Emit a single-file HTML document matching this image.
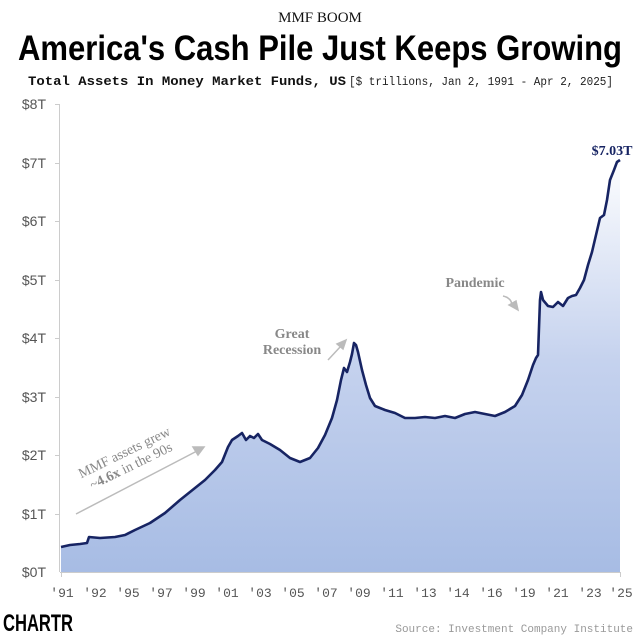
<!DOCTYPE html>
<html><head><style>
body{margin:0;background:#fff;width:640px;height:639px;overflow:hidden}
</style></head><body>
<svg width="640" height="639" viewBox="0 0 640 639" xmlns="http://www.w3.org/2000/svg">
<defs>
<linearGradient id="g" gradientUnits="userSpaceOnUse" x1="0" y1="150" x2="0" y2="572">
<stop offset="0" stop-color="#ffffff"/>
<stop offset="0.5" stop-color="#c5d2ee"/>
<stop offset="1" stop-color="#a7bce4"/>
</linearGradient>
</defs>
<text x="320" y="22" text-anchor="middle" font-family="Liberation Serif,serif" font-size="15" fill="#111">MMF BOOM</text>
<text x="320" y="60" text-anchor="middle" font-family="Liberation Sans,sans-serif" font-size="35" font-weight="bold" fill="#000" textLength="604" lengthAdjust="spacingAndGlyphs">America's Cash Pile Just Keeps Growing</text>
<text x="28" y="85" font-family="Liberation Mono,monospace" font-size="13" font-weight="bold" fill="#111" textLength="318" lengthAdjust="spacingAndGlyphs">Total Assets In Money Market Funds, US</text>
<text x="349" y="85" font-family="Liberation Mono,monospace" font-size="11.5" fill="#222" textLength="264" lengthAdjust="spacingAndGlyphs">[$ trillions, Jan 2, 1991 - Apr 2, 2025]</text>
<g font-family="Liberation Sans,sans-serif" font-size="14" fill="#555" text-anchor="end">
<text x="46" y="109">$8T</text><text x="46" y="168">$7T</text><text x="46" y="226">$6T</text><text x="46" y="285">$5T</text><text x="46" y="343">$4T</text><text x="46" y="402">$3T</text><text x="46" y="460">$2T</text><text x="46" y="519">$1T</text><text x="46" y="577">$0T</text>
</g>
<g stroke="#ccc" stroke-width="1">
<line x1="59.5" y1="104" x2="59.5" y2="572"/>
<line x1="55" y1="104.5" x2="59" y2="104.5"/><line x1="55" y1="163.5" x2="59" y2="163.5"/><line x1="55" y1="221.5" x2="59" y2="221.5"/><line x1="55" y1="280.5" x2="59" y2="280.5"/><line x1="55" y1="338.5" x2="59" y2="338.5"/><line x1="55" y1="397.5" x2="59" y2="397.5"/><line x1="55" y1="455.5" x2="59" y2="455.5"/><line x1="55" y1="514.5" x2="59" y2="514.5"/>
<line x1="60" y1="572.5" x2="621" y2="572.5"/>
</g>
<path d="M61,572 L61,547 L70,545 L80,544 L87,543 L89,537 L100,538 L115,537 L125,535 L135,530 L150,523 L165,513 L180,500 L195,488 L205,480 L215,470 L222,462 L228,447 L232,440 L238,436 L242,433 L246,440 L250,436 L254,438 L258,434 L262,440 L270,444 L280,450 L290,458 L300,462 L310,458 L318,448 L325,435 L332,418 L337,400 L341,380 L344,368 L347,372 L350,362 L352,354 L354,343 L356,345 L358,352 L362,370 L366,385 L370,398 L375,406 L385,410 L395,413 L405,418 L415,418 L425,417 L435,418 L445,416 L455,418 L465,414 L475,412 L485,414 L495,416 L505,412 L515,406 L522,395 L528,380 L533,365 L536,358 L538,355 L540,300 L541,292 L543,300 L548,306 L553,307 L558,302 L563,306 L568,298 L572,296 L576,295 L580,288 L584,280 L588,265 L592,252 L596,235 L600,218 L604,215 L607,200 L610,180 L614,170 L617,162 L620,160 L620,572 Z" fill="url(#g)"/>
<polyline fill="none" stroke="#172463" stroke-width="2.6" stroke-linejoin="round" points="61,547 70,545 80,544 87,543 89,537 100,538 115,537 125,535 135,530 150,523 165,513 180,500 195,488 205,480 215,470 222,462 228,447 232,440 238,436 242,433 246,440 250,436 254,438 258,434 262,440 270,444 280,450 290,458 300,462 310,458 318,448 325,435 332,418 337,400 341,380 344,368 347,372 350,362 352,354 354,343 356,345 358,352 362,370 366,385 370,398 375,406 385,410 395,413 405,418 415,418 425,417 435,418 445,416 455,418 465,414 475,412 485,414 495,416 505,412 515,406 522,395 528,380 533,365 536,358 538,355 540,300 541,292 543,300 548,306 553,307 558,302 563,306 568,298 572,296 576,295 580,288 584,280 588,265 592,252 596,235 600,218 604,215 607,200 610,180 614,170 617,162 620,160"/>
<g stroke="#ccc"><line x1="61.5" y1="572" x2="61.5" y2="577"/><line x1="620.5" y1="572" x2="620.5" y2="577"/></g>
<g font-family="Liberation Mono,monospace" font-size="13" fill="#555" text-anchor="middle">
<text x="62" y="597">'91</text><text x="95" y="597">'92</text><text x="128" y="597">'95</text><text x="161" y="597">'97</text><text x="194" y="597">'99</text><text x="227" y="597">'01</text><text x="260" y="597">'03</text><text x="293" y="597">'05</text><text x="326" y="597">'07</text><text x="359" y="597">'09</text><text x="392" y="597">'11</text><text x="425" y="597">'13</text><text x="458" y="597">'14</text><text x="491" y="597">'16</text><text x="524" y="597">'19</text><text x="557" y="597">'21</text><text x="590" y="597">'23</text><text x="621" y="597">'25</text>
</g>
<text x="612" y="155" text-anchor="middle" font-family="Liberation Serif,serif" font-size="14" font-weight="bold" fill="#172463">$7.03T</text>
<g font-family="Liberation Serif,serif" font-size="14" font-weight="bold" fill="#888" text-anchor="middle">
<text x="292" y="338">Great</text><text x="292" y="354">Recession</text>
<text x="475" y="287">Pandemic</text>
</g>
<g transform="rotate(-26 128 460)" font-family="Liberation Serif,serif" font-size="14" fill="#888" text-anchor="middle">
<text x="128" y="456">MMF assets grew</text>
<text x="128" y="471">~<tspan font-weight="bold">4.6x</tspan> in the 90s</text>
</g>
<g stroke="#bbb" stroke-width="1.5" fill="#bbb">
<line x1="76" y1="514" x2="197" y2="451"/><polygon points="204,447 193,447 198,455"/>
<line x1="328" y1="360" x2="341" y2="346"/><polygon points="346,340 337,344 343,349"/>
<path d="M503,296 Q512,298 512,306" fill="none"/><polygon points="518,310 509,305 516,301"/>
</g>
<text x="3" y="631" font-family="Liberation Sans,sans-serif" font-size="24" font-weight="bold" fill="#000" textLength="70" lengthAdjust="spacingAndGlyphs">CHARTR</text>
<text x="633" y="632" text-anchor="end" font-family="Liberation Mono,monospace" font-size="11" fill="#999">Source: Investment Company Institute</text>
</svg>
</body></html>
